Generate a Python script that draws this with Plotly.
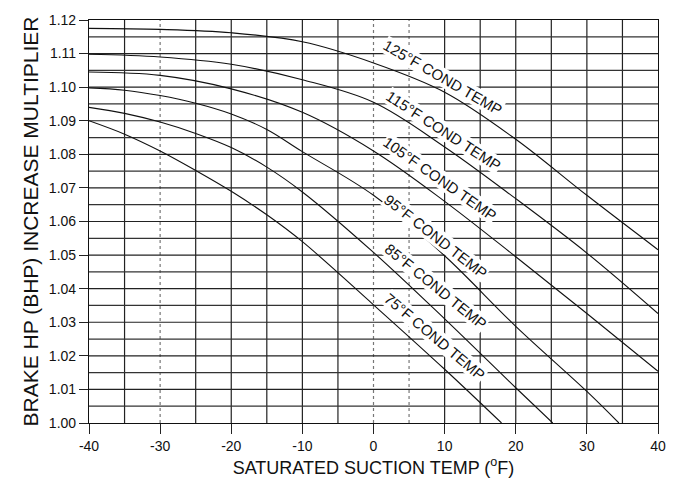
import plotly.graph_objects as go

# ---- data ----
cond_temps = ["125", "115", "105", "95", "85", "75"]

x_125 = [-40, -30, -20, -10, 0, 10, 20, 30, 40]
y_125 = [1.1175, 1.1172, 1.1162, 1.1135, 1.1072, 1.0985, 1.0845, 1.0678, 1.0516]

x_115 = [-40, -30, -20, -10, 0, 10, 20, 30, 40]
y_115 = [1.1098, 1.1090, 1.1068, 1.1022, 1.0955, 1.0822, 1.0668, 1.0506, 1.0326]

x_105 = [-40, -30, -20, -10, 0, 10, 20, 30, 40]
y_105 = [1.1045, 1.1035, 1.0995, 1.0925, 1.0810, 1.0660, 1.0495, 1.0326, 1.0154]

x_95 = [-40, -35, -30, -25, -20, -15, -10, 0, 10, 20, 30, 34.5]
y_95 = [1.0998, 1.0991, 1.0975, 1.0952, 1.0920, 1.0874, 1.0808, 1.0678, 1.0498, 1.0288, 1.0094, 1.0]

x_85 = [-40, -35, -30, -25, -20, -15, -10, 0, 10, 20, 25.2]
y_85 = [1.0940, 1.0922, 1.0896, 1.0862, 1.0820, 1.0762, 1.0688, 1.0508, 1.0310, 1.0105, 1.0]

x_75 = [-40, -35, -30, -25, -20, -15, -10, 0, 10, 18]
y_75 = [1.0900, 1.0860, 1.0810, 1.0752, 1.0690, 1.0620, 1.0540, 1.0352, 1.0160, 1.0]

x_ticks = [-40, -30, -20, -10, 0, 10, 20, 30, 40]
x_tick_labels = [str(v) for v in x_ticks]          # plain hyphen, as in the reference
y_ticks = [1.00, 1.01, 1.02, 1.03, 1.04, 1.05, 1.06, 1.07, 1.08, 1.09, 1.10, 1.11, 1.12]
y_tick_labels = ["%.2f" % v for v in y_ticks]

series = [(x_125, y_125), (x_115, y_115), (x_105, y_105),
          (x_95, y_95), (x_85, y_85), (x_75, y_75)]

# label placement (data coords) and rotation
label_pos = [(9.8, 1.1030), (9.8, 1.0870), (9.3, 1.0728),
             (8.8, 1.0556), (8.8, 1.0407), (8.6, 1.0258)]
label_angle = [30, 33, 35, 38, 39, 40]

FONT = "Liberation Sans, Arial, sans-serif"

fig = go.Figure()

# grid lines as shapes (layer below)
shapes = []
dotted_x = {-30, 0, 5}
for i in range(-7, 8):
    xv = i * 5
    dotted = xv in dotted_x
    shapes.append(dict(type="line", xref="x", yref="paper", x0=xv, x1=xv, y0=0, y1=1,
                       line=dict(color="#777" if dotted else "#222", width=1.2,
                                 dash="dot" if dotted else "solid"),
                       layer="below"))
for j in range(1, 24):
    yv = 1.0 + j * 0.005
    shapes.append(dict(type="line", xref="paper", yref="y", x0=0, x1=1, y0=yv, y1=yv,
                       line=dict(color="#333" if j % 2 else "#222", width=1.2),
                       layer="below"))

for (xs, ys) in series:
    fig.add_trace(go.Scatter(x=xs, y=ys, mode="lines", line=dict(color="#111", width=1.1, shape="spline"),
                             hoverinfo="skip", showlegend=False))

annotations = []
for t, (lx, ly), ang in zip(cond_temps, label_pos, label_angle):
    annotations.append(dict(x=lx, y=ly, xref="x", yref="y", text=f"{t}°F COND TEMP",
                            showarrow=False, textangle=ang, bgcolor="white", borderpad=0,
                            font=dict(family=FONT, size=15, color="#111")))

fig.update_layout(
    width=678, height=487,
    margin=dict(l=89, r=15, t=16, b=61),
    paper_bgcolor="white", plot_bgcolor="white",
    shapes=shapes, annotations=annotations,
    font=dict(family=FONT, color="#111"),
    xaxis=dict(range=[-40, 40], tickvals=x_ticks, ticktext=x_tick_labels, ticks="outside", ticklen=10,
               tickcolor="#222", showgrid=False, zeroline=False, showline=True, linecolor="#111",
               linewidth=1.2, mirror=True, tickfont=dict(size=14, family=FONT),
               title=dict(text="SATURATED SUCTION TEMP (<sup>o</sup>F)", font=dict(size=18, family=FONT), standoff=8)),
    yaxis=dict(range=[1.0, 1.12], tickvals=y_ticks, ticktext=y_tick_labels, ticks="outside", ticklen=9,
               tickcolor="#222", showgrid=False, zeroline=False, showline=True, linecolor="#111",
               linewidth=1.2, mirror=True, tickfont=dict(size=14, family=FONT),
               title=dict(text="BRAKE HP (BHP) INCREASE MULTIPLIER", font=dict(size=21, family=FONT), standoff=4)),
)

fig.write_html("out.html")
